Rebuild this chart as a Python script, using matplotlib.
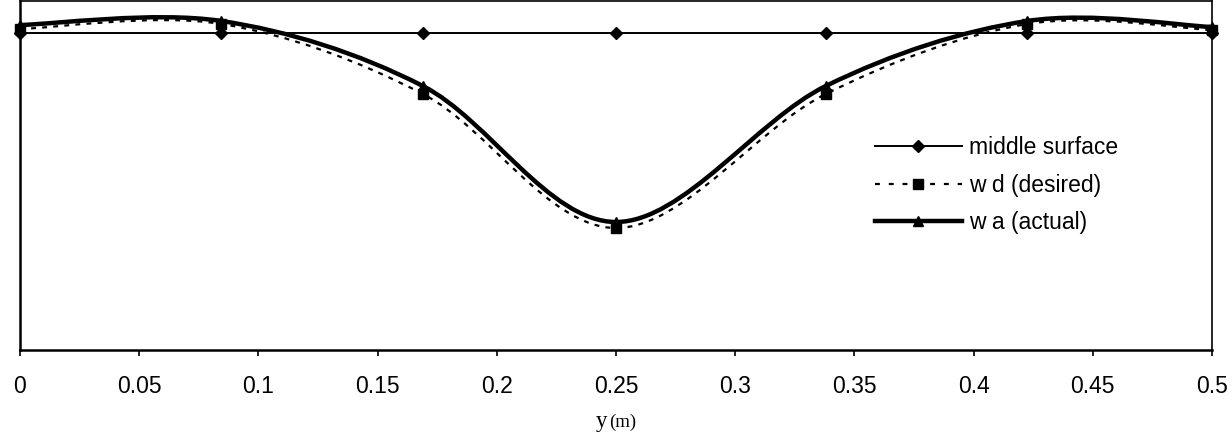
import numpy as np
import matplotlib.pyplot as plt
from matplotlib.path import Path
from matplotlib.patches import PathPatch
from matplotlib.lines import Line2D

# positions along the plate (m) and deflections (arbitrary units, middle surface = 0)
y_pos = [0, 0.0845, 0.169, 0.25, 0.338, 0.4225, 0.5]
middle_surface = [0, 0, 0, 0, 0, 0, 0]
w_desired = [0.04, 0.09, -0.61, -1.95, -0.61, 0.09, 0.03]
w_actual = [0.08, 0.12, -0.53, -1.89, -0.53, 0.12, 0.06]
x_ticks = [0, 0.05, 0.1, 0.15, 0.2, 0.25, 0.3, 0.35, 0.4, 0.45, 0.5]
x_ticklabels = ['0', '0.05', '0.1', '0.15', '0.2', '0.25', '0.3', '0.35', '0.4', '0.45', '0.5']

plt.rcParams['font.family'] = ['Liberation Sans', 'DejaVu Sans']


def smooth_path(x, y):
    # spreadsheet-style smoothed line: cubic bezier through the points
    pts = np.column_stack([x, y]).astype(float)
    ext = np.vstack([pts[0], pts, pts[-1]])
    verts = [pts[0]]
    codes = [Path.MOVETO]
    for i in range(len(pts) - 1):
        p0, p1, p2, p3 = ext[i], ext[i + 1], ext[i + 2], ext[i + 3]
        verts += [p1 + (p2 - p0) / 6, p2 - (p3 - p1) / 6, p2]
        codes += [Path.CURVE4] * 3
    return Path(verts, codes)


fig = plt.figure(figsize=(12.32, 4.38), dpi=100)
ax = fig.add_axes([20 / 1232, 1 - 350 / 438, 1192 / 1232, 349 / 438])

dash_style = (0, (2.2, 2.8))

# middle surface
ax.plot(y_pos, middle_surface, color='black', lw=1.4, marker='D', ms=6,
        clip_on=False, zorder=3)
# desired
ax.add_patch(PathPatch(smooth_path(y_pos, w_desired), fill=False, edgecolor='black',
                       lw=1.6, linestyle=dash_style, zorder=4))
ax.plot(y_pos, w_desired, ls='none', color='black', marker='s', ms=6.5,
        clip_on=False, zorder=4)
# actual
ax.add_patch(PathPatch(smooth_path(y_pos, w_actual), fill=False, edgecolor='black',
                       lw=3.2, zorder=5, capstyle='butt'))
ax.plot(y_pos, w_actual, ls='none', color='black', marker='^', ms=6.5,
        clip_on=False, zorder=5)

ax.set_xlim(0, 0.5)
ax.set_ylim(-3.17, 0.32)
ax.set_xticks(x_ticks)
ax.set_xticklabels(x_ticklabels, fontsize=16.5)
ax.set_yticks([])
ax.tick_params(axis='x', direction='out', length=4, width=1.2, pad=14)
for side in ['left', 'bottom']:
    ax.spines[side].set_linewidth(1.8)
for side in ['top', 'right']:
    ax.spines[side].set_linewidth(1.2)

handles = [
    Line2D([], [], color='black', lw=1.4, marker='D', ms=6),
    Line2D([], [], color='black', lw=1.6, ls=(0, (2.2, 4)), marker='s', ms=6.5),
    Line2D([], [], color='black', lw=3.2, marker='^', ms=6.5),
]
labels = ['middle surface', 'w d (desired)', 'w a (actual)']
ax.legend(handles, labels, loc='upper left', bbox_to_anchor=(0.717, 0.612),
          frameon=False, handlelength=3.8, handletextpad=0.3, labelspacing=0.63,
          borderpad=0, borderaxespad=0, fontsize=16.5)

fig.text(607 / 1232, 1 - 427 / 438, 'y', ha='right', va='baseline',
         family='Liberation Serif', fontsize=16.5)
fig.text(609 / 1232, 1 - 427 / 438, '(m)', ha='left', va='baseline',
         family='Liberation Serif', fontsize=13.5)

fig.savefig('out.png', dpi=100)
